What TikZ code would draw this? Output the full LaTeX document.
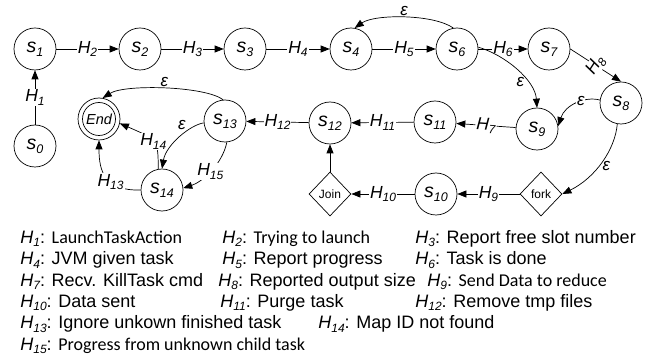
\documentclass[tikz,border=0pt]{standalone}
\usepackage{fontspec}
\setmainfont{Liberation Sans}
\newfontfamily\calfont{Carlito}
\usetikzlibrary{arrows.meta,shapes.geometric}
\newcommand\hl[1]{\textit{H\raisebox{-3.5pt}{\fontsize{12}{12}\selectfont #1}}}
\newcommand\sn[1]{\textit{s\raisebox{-4pt}{\fontsize{12.5}{12.5}\selectfont #1}}}
\newcommand\lh[1]{\textit{H\raisebox{-3.5pt}{\fontsize{12}{12}\selectfont #1}}}
\begin{document}
\begin{tikzpicture}[x=1pt,y=-1pt,line width=0.7pt,
  >={Triangle[length=9pt,width=7pt]},
  st/.style={circle,draw,minimum size=42pt,inner sep=0pt,font=\fontsize{19.5}{19.5}\selectfont},
  dia/.style={diamond,draw,minimum width=42pt,minimum height=44pt,inner sep=0pt,font=\fontsize{12}{12}\selectfont},
  lab/.style={fill=white,inner sep=1pt,font=\fontsize{17.5}{17.5}\selectfont},
  eps/.style={inner sep=1pt,font=\fontsize{17}{17}\selectfont\itshape},
  leg/.style={anchor=base west,inner sep=0pt,font=\fontsize{18}{18}\selectfont}]
\path[fill=white,use as bounding box] (0,0) rectangle (655,355);
% states
\node[st] (s1) at (35,49) {\sn{1}};
\node[st] (s2) at (140,49) {\sn{2}};
\node[st] (s3) at (245,49) {\sn{3}};
\node[st] (s4) at (351,49) {\sn{4}};
\node[st] (s6) at (457,49) {\sn{6}};
\node[st] (s7) at (549,49) {\sn{7}};
\node[st] (s8) at (621,103) {\sn{8}};
\node[st] (s9) at (537,129) {\sn{9}};
\node[st] (s11) at (435,122) {\sn{11}};
\node[st] (s12) at (330,123) {\sn{12}};
\node[st] (s13) at (225,121) {\sn{13}};
\node[st] (s0) at (35,146) {\sn{0}};
\node[st] (s14) at (162,190) {\sn{14}};
\node[st] (End) at (99,119) {\fontsize{14.5}{14.5}\selectfont\itshape End};
\draw (End.center) circle[radius=16.5pt];
\node[dia] (Join) at (330,194) {Join};
\node[st] (s10) at (436,194) {\sn{10}};
\node[dia] (fork) at (541,194) {fork};
% straight edges
\draw[->] (s0) -- node[lab]{\hl{1}} (s1);
\draw[->] (s1) -- node[lab]{\hl{2}} (s2);
\draw[->] (s2) -- node[lab]{\hl{3}} (s3);
\draw[->] (s3) -- node[lab]{\hl{4}} (s4);
\draw[->] (s4) -- node[lab]{\hl{5}} (s6);
\draw[->] (s6) -- node[lab]{\hl{6}} (s7);
\draw[->] (s7.east) -- node[lab,rotate=57,inner sep=0pt]{\hl{8}} (s8.north);
\draw[->] (s9) -- node[lab,sloped]{\hl{7}} (s11);
\draw[->] (s11) -- node[lab]{\hl{11}} (s12);
\draw[->] (s12) -- node[lab]{\hl{12}} (s13);
\draw[->] (fork) -- node[lab]{\hl{9}} (s10);
\draw[->] (s10) -- node[lab]{\hl{10}} (Join);
\draw[->] (Join) -- (s12);
% curved edges
\draw[->] (s6.100) .. controls +(-20,-14) and +(20,-14) .. (s4.80) node[pos=0.5,above,eps]{ε};
\draw[->] (s6.5) .. controls (505,55) and (535,80) .. (s9.north) node[pos=0.68,left=2pt,eps]{ε};
\draw[->] (s8.172) .. controls (585,96) and (565,105) .. (s9.8) node[pos=0.4,eps,fill=white]{ε};
\draw[->] (s8.-100) .. controls (615,150) and (595,178) .. (fork.east) node[pos=0.55,right=3pt,eps]{ε};
\draw[->] (s13.95) .. controls (205,86) and (125,84) .. (End.80) node[pos=0.5,above,eps]{ε};
\draw[->] (s13.185) .. controls (190,125) and (166,145) .. (s14.north) node[pos=0.35,above left,eps]{ε};
\draw[->] (s14.100) .. controls (158,140) .. (End.-12) node[pos=0.5,lab]{\hl{14}};
\draw[->] (s14.west) .. controls (105,191) and (99,172) .. (End.south) node[pos=0.4,lab]{\hl{13}};
\draw[->] (s13.-85) .. controls (222,165) and (202,182) .. (s14.5) node[pos=0.5,lab]{\hl{15}};
% legend
\node[leg] (l1) at (20,243.5) {\lh{1}: {\calfont LaunchTaskAction}};
\node[leg] (l2) at (222,243.5) {\lh{2}: {\calfont Trying to launch}};
\node[leg] (l3) at (415,243.5) {\lh{3}: Report free slot number};
\node[leg] (l4) at (20,264.8) {\lh{4}: JVM given task};
\node[leg] (l5) at (222,264.8) {\lh{5}: Report progress};
\node[leg] (l6) at (415,264.8) {\lh{6}: Task is done};
\node[leg] (l7) at (20,286.1) {\lh{7}: Recv. KillTask cmd};
\node[leg] (l8) at (218,286.1) {\lh{8}: Reported output size};
\node[leg] (l9) at (427,286.1) {\lh{9}: {\calfont Send Data to reduce}};
\node[leg] (l10) at (20,307.4) {\lh{10}: Data sent};
\node[leg] (l11) at (220,307.4) {\lh{11}: Purge task};
\node[leg] (l12) at (415,307.4) {\lh{12}: Remove tmp files};
\node[leg] (l13) at (20,328.7) {\lh{13}: Ignore unkown finished task};
\node[leg] (l14) at (318,328.7) {\lh{14}: Map ID not found};
\node[leg] (l15) at (20,350) {\lh{15}: {\calfont Progress from unknown child task}};
\end{tikzpicture}
\end{document}
